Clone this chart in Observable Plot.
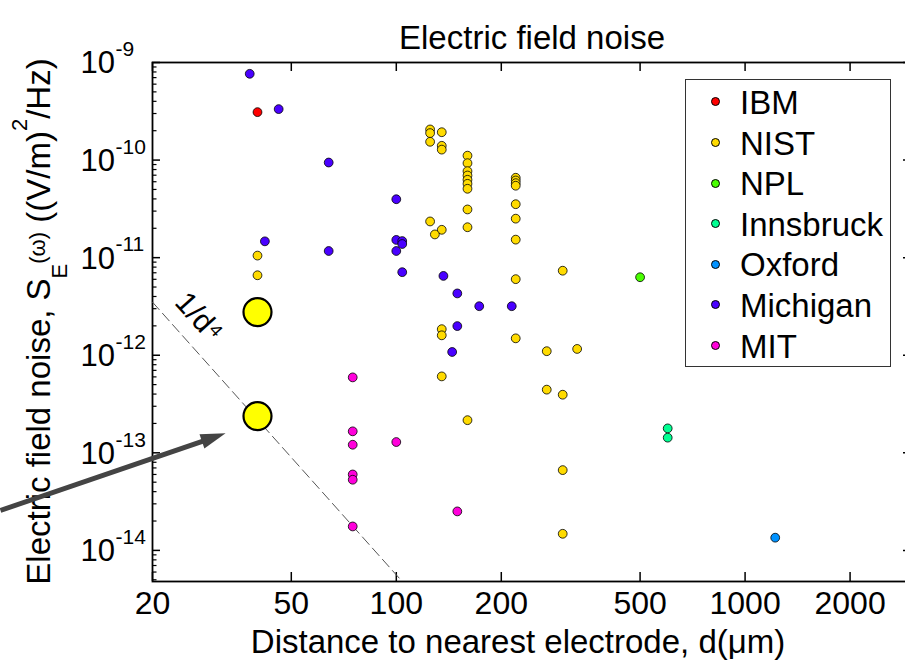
<!DOCTYPE html>
<html><head><meta charset="utf-8">
<script src="https://cdn.jsdelivr.net/npm/d3@7"></script>
<script src="https://cdn.jsdelivr.net/npm/@observablehq/plot@0.6"></script>
<style>
html,body{margin:0;padding:0;background:#fff;overflow:hidden;}
#wrap{position:relative;width:905px;height:670px;overflow:hidden;font-family:"Liberation Sans",Arial,sans-serif;}
#legend{position:absolute;left:685px;top:79px;width:206px;height:288px;border:1px solid #333;background:#fff;box-sizing:border-box;}
#legend .row{position:absolute;left:0;height:40px;line-height:40px;font-size:33px;white-space:nowrap;color:#000;}
#legend .dot{position:absolute;width:7px;height:7px;border-radius:50%;border:0.8px solid #000;}
</style>
</head><body>
<div id="wrap"></div>
<script>
// ---- data ----
const labs = ["IBM", "NIST", "NPL", "Innsbruck", "Oxford", "Michigan", "MIT"];
const colors = ["rgb(255,0,0)", "rgb(255,219,0)", "rgb(73,255,0)", "rgb(0,255,146)", "rgb(0,146,255)", "rgb(73,0,255)", "rgb(255,0,219)"];

const ibmD = [40];
const ibmS = [3.1e-10];
const nistD = [40, 40, 125, 125, 125, 135, 135, 135, 160, 160, 160, 160, 160, 160, 160, 160, 160,
  220, 220, 220, 220, 220, 220, 220, 220, 125, 135, 129, 300, 135, 135, 220, 270, 330, 135, 270, 300, 160, 300, 300];
const nistS = [1.05e-11, 6.6e-12, 2.06e-10, 1.89e-10, 1.54e-10, 1.93e-10, 1.40e-10, 1.28e-10,
  1.11e-10, 9.3e-11, 7.7e-11, 6.95e-11, 6.28e-11, 5.71e-11, 5.08e-11, 3.12e-11, 2.05e-11,
  6.59e-11, 6.18e-11, 5.8e-11, 5.46e-11, 3.53e-11, 2.51e-11, 1.53e-11, 6.02e-12,
  2.35e-11, 1.93e-11, 1.73e-11, 7.35e-12, 1.85e-12, 1.6e-12, 1.49e-12, 1.10e-12, 1.16e-12,
  6.07e-13, 4.44e-13, 3.94e-13, 2.16e-13, 6.65e-14, 1.48e-14];
const nplD = [500];
const nplS = [6.3e-12];
const innsD = [600, 600];
const innsS = [1.78e-13, 1.43e-13];
const oxfD = [1220];
const oxfS = [1.35e-14];
const michD = [38, 46, 64, 100, 42, 64, 100, 104, 104, 100, 104, 136.5, 149.6, 172.9, 214.3, 149.6, 144.6];
const michS = [7.66e-10, 3.33e-10, 9.44e-11, 3.97e-11, 1.47e-11, 1.17e-11, 1.52e-11, 1.48e-11, 1.38e-11,
  1.17e-11, 7.1e-12, 6.5e-12, 4.3e-12, 3.18e-12, 3.18e-12, 1.99e-12, 1.08e-12];
const mitD = [75, 75, 75, 100, 75, 75, 75, 149.6];
const mitS = [5.93e-13, 1.66e-13, 1.21e-13, 1.29e-13, 6.0e-14, 5.3e-14, 1.76e-14, 2.51e-14];

const highlightD = [40, 40];
const highlightS = [2.77e-12, 2.38e-13];

const slopeLineD = [20, 104];
const slopeLineS = [3.5e-12, 4.8e-15];
const slopeLabel = {d: 27, s: 1.05e-12, text: "1/d\u2074"};

const arrowStart = {d: 7.33, s: 2.57e-14};
const arrowBase = {d: 28.6, s: 1.36e-13};
const arrowTip = {d: 32.4, s: 1.59e-13};

const xTicks = [20, 50, 100, 200, 500, 1000, 2000];
const xTickLabels = ["20", "50", "100", "200", "500", "1000", "2000"];
const yTicks = [1e-14, 1e-13, 1e-12, 1e-11, 1e-10, 1e-9];
const yExponents = ["-14", "-13", "-12", "-11", "-10", "-9"];
const yMinor = [];
for (let n = -15; n <= -10; n++) for (let k = 2; k <= 9; k++) {
  const v = k * Math.pow(10, n);
  if (v > 4.8e-15 && v < 1e-9) yMinor.push(v);
}

const title = "Electric field noise";
const xLabel = "Distance to nearest electrode, d(\u03bcm)";

// ---- build ----
const series = [[ibmD, ibmS], [nistD, nistS], [nplD, nplS], [innsD, innsS], [oxfD, oxfS], [michD, michS], [mitD, mitS]];
const points = series.flatMap(([D, S], g) => D.map((d, i) => ({lab: labs[g], d, s: S[i]})));
const highlight = highlightD.map((d, i) => ({d, s: highlightS[i]}));
const slopeLine = slopeLineD.map((d, i) => ({d, s: slopeLineS[i]}));

const FONT = '"Liberation Sans", Arial, sans-serif';
const W = 911, H = 670, ML = 152, MR = 0, MT = 62, MB = 89;
const PW = W - ML - MR, PH = H - MT - MB;

const headAngle = 71 * Math.PI / 180;
const arrowHead = {
  draw(ctx) {
    const c = Math.cos(headAngle), s = Math.sin(headAngle);
    const pts = [[0, 0], [7.5, 25], [-7.5, 25]].map(([x, y]) => [x * c - y * s, x * s + y * c]);
    ctx.moveTo(pts[0][0], pts[0][1]);
    ctx.lineTo(pts[1][0], pts[1][1]);
    ctx.lineTo(pts[2][0], pts[2][1]);
    ctx.closePath();
  }
};

const plot = Plot.plot({
  width: W, height: H,
  marginLeft: ML, marginRight: MR, marginTop: MT, marginBottom: MB,
  style: {fontFamily: FONT, fontSize: "31px", color: "#000", background: "transparent", maxWidth: "none", overflow: "visible"},
  x: {type: "log", domain: [20, 3000], axis: null},
  y: {type: "log", domain: [4.8e-15, 1e-9], axis: null},
  color: {domain: labs, range: colors},
  marks: [
    // inward ticks
    Plot.ruleX(xTicks, {x: d => d, insetTop: PH - 9, stroke: "#000", strokeWidth: 1.5}),
    Plot.ruleX(xTicks, {x: d => d, insetBottom: PH - 9, stroke: "#000", strokeWidth: 1.5}),
    Plot.ruleY(yTicks, {y: d => d, insetRight: PW - 8, stroke: "#000", strokeWidth: 1.5}),
    Plot.ruleY(yTicks, {y: d => d, insetLeft: PW - 8, stroke: "#000", strokeWidth: 1.5}),
    Plot.ruleY(yMinor, {y: d => d, insetRight: PW - 4.5, stroke: "#000", strokeWidth: 1.2}),
    Plot.ruleY(yMinor, {y: d => d, insetLeft: PW - 4.5, stroke: "#000", strokeWidth: 1.2}),
    Plot.frame({stroke: "#000", strokeWidth: 1.8}),
    // x tick labels
    Plot.text(xTicks, {x: d => d, text: (d, i) => xTickLabels[i], frameAnchor: "bottom", lineAnchor: "top", dy: 10, fontSize: 32}),
    // y tick labels 10^n
    Plot.text(yTicks, {y: d => d, text: () => "10", frameAnchor: "left", textAnchor: "start", dx: -72, dy: 1, fontSize: 31}),
    Plot.text(yTicks, {y: d => d, text: (d, i) => yExponents[i], frameAnchor: "left", textAnchor: "start", dx: -37, dy: -13, fontSize: 21}),
    // title and x label
    Plot.text([title], {frameAnchor: "top", dy: -36.6, fontSize: 33}),
    Plot.text([xLabel], {frameAnchor: "bottom", dx: -14, dy: 71.7, fontSize: 33}),
    // 1/d^4 line
    Plot.line(slopeLine, {x: "d", y: "s", stroke: "#555", strokeWidth: 1, strokeDasharray: "10,5"}),
    Plot.text([slopeLabel], {x: "d", y: "s", text: "text", rotate: 48, fontSize: 30, dx: 1, dy: -36}),
    // data
    Plot.dot(points, {x: "d", y: "s", fill: "lab", r: 4.4, stroke: "#000", strokeWidth: 0.8}),
    Plot.dot(highlight, {x: "d", y: "s", r: 14, fill: "#ffff00", stroke: "#000", strokeWidth: 2.2}),
    // arrow
    Plot.link([{a: arrowStart, b: arrowBase}], {x1: o => o.a.d, y1: o => o.a.s, x2: o => o.b.d, y2: o => o.b.s, stroke: "#444", strokeWidth: 5}),
    Plot.dot([arrowTip], {x: "d", y: "s", symbol: arrowHead, r: 10, fill: "#444", stroke: "none"})
  ]
});

const wrap = document.getElementById("wrap");
wrap.appendChild(plot);

// y axis label with sub/superscripts (relative shifts keep one text chunk)
const svg = d3.select(plot.tagName.toLowerCase() === "svg" ? plot : plot.querySelector("svg"));
const yl = svg.insert("text", ":first-child")
  .attr("transform", "translate(50,321.5) rotate(-90)")
  .attr("text-anchor", "middle")
  .attr("font-family", FONT)
  .attr("font-size", 33)
  .attr("fill", "#000");
yl.append("tspan").text("Electric field noise, S");
yl.append("tspan").attr("font-size", 22).attr("dy", 17).text("E");
yl.append("tspan").attr("font-size", 22).attr("dy", -22).text("(\u03c9)");
yl.append("tspan").attr("dy", 5).text(" ((V/m)");
yl.append("tspan").attr("font-size", 22).attr("dy", -23).text("2");
yl.append("tspan").attr("dy", 23).text("/Hz)");

// legend
const legend = document.createElement("div");
legend.id = "legend";
labs.forEach((lab, i) => {
  const dot = document.createElement("div");
  dot.className = "dot";
  dot.style.background = colors[i];
  dot.style.left = (715 - 686 - 4.3) + "px";
  dot.style.top = (101.7 + 40.6 * i - 80 - 4.3) + "px";
  legend.appendChild(dot);
  const row = document.createElement("div");
  row.className = "row";
  row.style.left = "54px";
  row.style.top = (3 + 40.6 * i) + "px";
  row.textContent = lab;
  legend.appendChild(row);
});
wrap.appendChild(legend);
</script>
</body></html>
